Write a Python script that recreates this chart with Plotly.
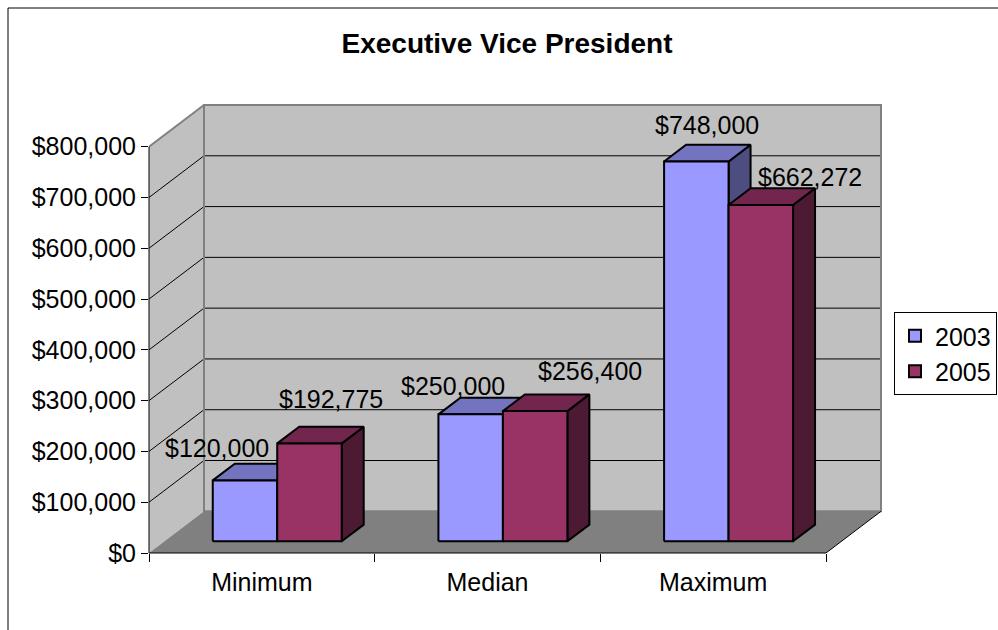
import plotly.graph_objects as go

# ---------------- data ----------------
categories = ["Minimum", "Median", "Maximum"]
series_names = ["2003", "2005"]
values_2003 = [120000, 250000, 748000]
values_2005 = [192775, 256400, 662272]
y_tick_values = [0, 100000, 200000, 300000, 400000, 500000, 600000, 700000, 800000]
title_text = "Executive Vice President"

series_values = {"2003": values_2003, "2005": values_2005}

# ---------------- style ----------------
FONT = "Arial, 'Liberation Sans', sans-serif"
FRONT = {"2003": "#9999FF", "2005": "#993366"}
TOP = {"2003": "#7373BF", "2005": "#73264D"}
SIDE = {"2003": "#4D4D80", "2005": "#4D1A33"}
WALL = "#C0C0C0"
FLOOR = "#808080"
WALL_EDGE = "#808080"

W, H = 998, 630
PLOT_L, PLOT_B = 149, 553          # front plane origin (px)
FRONT_W_PX, FRONT_H_PX = 677, 406.3
DEPTH_PX = (55, 41.7)              # 3-D depth offset of the back wall (px)
PAD = 3
PLOT_R = PLOT_L + FRONT_W_PX + DEPTH_PX[0] + PAD
PLOT_T = PLOT_B - FRONT_H_PX - DEPTH_PX[1] - PAD

n = len(categories)
ymax = y_tick_values[-1]
ux = n / FRONT_W_PX
uy = ymax / FRONT_H_PX
DX = DEPTH_PX[0] * ux
DY = DEPTH_PX[1] * uy
x_range = [-0.5, n - 0.5 + (DEPTH_PX[0] + PAD) * ux]
y_range = [0, ymax + (DEPTH_PX[1] + PAD) * uy]

GAP_WIDTH = 0.75
BAR_W = 1.0 / (1 + GAP_WIDTH) / len(series_names)
F0, F1 = 0.28, 0.40   # bar front depth, bar thickness (fraction of wall depth)

# per-label pixel shifts (manual label placement in the original)
LABEL_SHIFTS = {
    "2003": [(-28, 32), (-18, 28), (11, 36)],
    "2005": [(22, 44), (55, 40), (49, 28)],
}

plot_w = PLOT_R - PLOT_L
plot_h = PLOT_B - PLOT_T


def path(pts):
    return "M " + " L ".join(f"{x},{y}" for x, y in pts) + " Z"


shapes = []
xl_w, xr_w = -0.5, n - 0.5
# side wall
shapes.append(dict(type="path", xref="x", yref="y", layer="below",
                   path=path([(xl_w, 0), (xl_w, ymax), (xl_w + DX, ymax + DY), (xl_w + DX, DY)]),
                   fillcolor=WALL, line=dict(width=0)))
# floor
shapes.append(dict(type="path", xref="x", yref="y", layer="below",
                   path=path([(xl_w, 0), (xr_w, 0), (xr_w + DX, DY), (xl_w + DX, DY)]),
                   fillcolor=FLOOR, line=dict(width=0)))
# back wall fill
shapes.append(dict(type="rect", xref="x", yref="y", layer="below",
                   x0=xl_w + DX, x1=xr_w + DX, y0=DY, y1=ymax + DY,
                   fillcolor=WALL, line=dict(width=0)))
# gridlines
for v in y_tick_values[1:-1]:
    shapes.append(dict(type="line", xref="x", yref="y", layer="below",
                       x0=xl_w + DX, x1=xr_w + DX, y0=v + DY, y1=v + DY,
                       line=dict(color="black", width=1)))
    shapes.append(dict(type="line", xref="x", yref="y", layer="below",
                       x0=xl_w, x1=xl_w + DX, y0=v, y1=v + DY,
                       line=dict(color="black", width=1)))
# back wall border + side wall top edge
shapes.append(dict(type="rect", xref="x", yref="y", layer="below",
                   x0=xl_w + DX, x1=xr_w + DX, y0=DY, y1=ymax + DY,
                   fillcolor="rgba(0,0,0,0)", line=dict(color=WALL_EDGE, width=2)))
shapes.append(dict(type="line", xref="x", yref="y", layer="below",
                   x0=xl_w, x1=xl_w + DX, y0=ymax, y1=ymax + DY,
                   line=dict(color=WALL_EDGE, width=2)))
# floor right edge
shapes.append(dict(type="line", xref="x", yref="y", layer="below",
                   x0=xr_w, x1=xr_w + DX, y0=0, y1=DY,
                   line=dict(color="black", width=1)))
# axis lines (front plane)
shapes.append(dict(type="line", xref="paper", yref="y", layer="above",
                   x0=0, x1=0, y0=0, y1=ymax, line=dict(color="black", width=1)))
shapes.append(dict(type="line", xref="x", yref="paper", layer="above",
                   x0=xl_w, x1=xr_w, y0=0, y1=0, line=dict(color="black", width=1)))
# outer chart border
shapes.append(dict(type="rect", xref="paper", yref="paper", layer="below",
                   x0=(8 - PLOT_L) / plot_w, x1=(1010 - PLOT_L) / plot_w,
                   y0=(PLOT_B - 640) / plot_h, y1=(PLOT_B - 8) / plot_h,
                   line=dict(color="black", width=1), fillcolor="rgba(0,0,0,0)"))

fig = go.Figure()

annotations = []
for i in range(n):
    for j, s in enumerate(series_names):
        v = series_values[s][i]
        xl = i - BAR_W * len(series_names) / 2 + j * BAR_W + F0 * DX
        xr = xl + BAR_W
        y0 = F0 * DY
        y1 = y0 + v
        ddx, ddy = F1 * DX, F1 * DY
        faces = [
            (SIDE[s], [(xr, y0), (xr + ddx, y0 + ddy), (xr + ddx, y1 + ddy), (xr, y1), (xr, y0)]),
            (TOP[s], [(xl, y1), (xr, y1), (xr + ddx, y1 + ddy), (xl + ddx, y1 + ddy), (xl, y1)]),
            (FRONT[s], [(xl, y0), (xr, y0), (xr, y1), (xl, y1), (xl, y0)]),
        ]
        for col, pts in faces:
            fig.add_trace(go.Scatter(
                x=[p[0] for p in pts], y=[p[1] for p in pts],
                mode="lines", fill="toself", fillcolor=col,
                line=dict(color="black", width=2),
                hoverinfo="skip", showlegend=False))
        sx, sy = LABEL_SHIFTS[s][i]
        annotations.append(dict(
            x=(xl + xr) / 2, y=y1, xref="x", yref="y",
            text=f"${v:,}", showarrow=False,
            xanchor="center", yanchor="middle", xshift=sx, yshift=sy,
            font=dict(family=FONT, size=25, color="black")))

# legend entries
for s in series_names:
    fig.add_trace(go.Bar(x=[None], y=[None], name=s, legendgroup=s,
                         marker=dict(color=FRONT[s], line=dict(color="black", width=2))))

fig.update_layout(
    width=W, height=H, autosize=False,
    margin=dict(l=PLOT_L, r=W - PLOT_R, t=PLOT_T, b=H - PLOT_B, pad=0, autoexpand=False),
    paper_bgcolor="white", plot_bgcolor="white",
    font=dict(family=FONT, size=25, color="black"),
    title=dict(text=f"<b>{title_text}</b>", x=507 / W, xref="container", xanchor="center",
               y=1 - 43 / H, yref="container", yanchor="middle",
               font=dict(family=FONT, size=28, color="black")),
    xaxis=dict(range=x_range, showgrid=False, zeroline=False, showline=False,
               tickmode="array", tickvals=list(range(n)), ticktext=categories,
               ticks="", ticklabelstandoff=12, tickfont=dict(size=25, color="black"),
               minor=dict(tickmode="array", tickvals=[i - 0.5 for i in range(n + 1)],
                          ticks="outside", ticklen=8, tickcolor="black", tickwidth=1,
                          showgrid=False),
               fixedrange=True),
    yaxis=dict(range=y_range, showgrid=False, zeroline=False, showline=False,
               tickmode="array", tickvals=y_tick_values,
               ticktext=[f"${v:,}" for v in y_tick_values],
               ticks="outside", ticklen=7, tickcolor="black", tickwidth=1,
               tickfont=dict(size=25, color="black"), fixedrange=True),
    showlegend=True,
    legend=dict(x=(894 - PLOT_L) / plot_w, y=(PLOT_B - 312) / plot_h,
                xanchor="left", yanchor="top", bgcolor="white",
                bordercolor="black", borderwidth=1,
                font=dict(family=FONT, size=25, color="black"),
                tracegroupgap=8, traceorder="normal"),
    shapes=shapes,
    annotations=annotations,
)

fig.write_html("out.html")
